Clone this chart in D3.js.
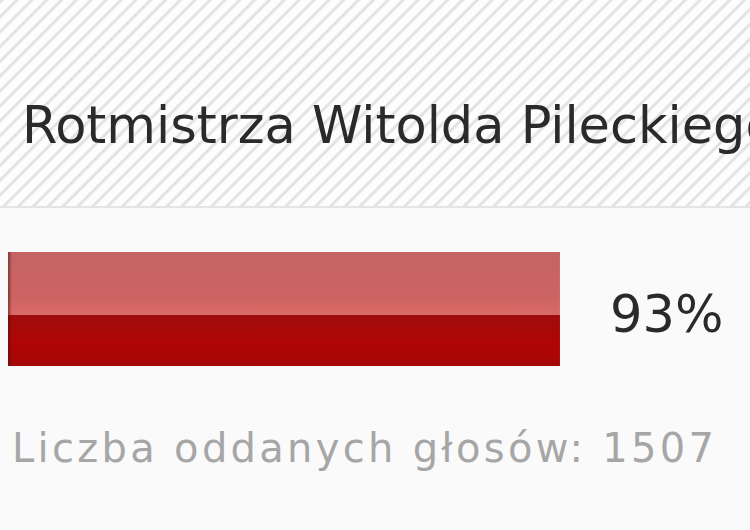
<!DOCTYPE html>
<html><head><meta charset="utf-8">
<script src="https://cdn.jsdelivr.net/npm/d3@7"></script>
<style>html,body{margin:0;padding:0;background:#fafafa;overflow:hidden}</style>
</head><body><svg id="c" width="750" height="530"></svg>
<script>
const categories = ["Rotmistrza Witolda Pileckiego"];
const percents = [93];
const totalVotesLabel = "Liczba oddanych głosów:";
const totalVotes = [1507];

const W = 750, H = 530;
const svg = d3.select("#c");
const defs = svg.append("defs");

const pat = defs.append("pattern").attr("id","hatch").attr("patternUnits","userSpaceOnUse")
  .attr("width",10.5).attr("height",10.5).attr("patternTransform","rotate(45)");
pat.append("rect").attr("width",10.5).attr("height",10.5).attr("fill","#fdfdfd");
pat.append("rect").attr("x",0).attr("width",3).attr("height",10.5).attr("fill","#e3e3e3");

const gTop = defs.append("linearGradient").attr("id","gTop").attr("x1",0).attr("y1",0).attr("x2",0).attr("y2",1);
gTop.append("stop").attr("offset","0").attr("stop-color","#c46464");
gTop.append("stop").attr("offset","0.75").attr("stop-color","#cc6462");
gTop.append("stop").attr("offset","1").attr("stop-color","#dc6a66");
const gBot = defs.append("linearGradient").attr("id","gBot").attr("x1",0).attr("y1",0).attr("x2",0).attr("y2",1);
gBot.append("stop").attr("offset","0").attr("stop-color","#a00c0c");
gBot.append("stop").attr("offset","0.6").attr("stop-color","#b00404");
gBot.append("stop").attr("offset","1").attr("stop-color","#a40808");
const gEdge = defs.append("linearGradient").attr("id","gEdge").attr("x1",0).attr("y1",0).attr("x2",1).attr("y2",0);
gEdge.append("stop").attr("offset","0").attr("stop-color","#4a1010").attr("stop-opacity",0.55);
gEdge.append("stop").attr("offset","1").attr("stop-color","#4a1010").attr("stop-opacity",0);

// header with hatch
svg.append("rect").attr("x",0).attr("y",0).attr("width",W).attr("height",206).attr("fill","url(#hatch)");
svg.append("rect").attr("x",0).attr("y",206).attr("width",W).attr("height",2).attr("fill","#e4e4e4");
svg.append("rect").attr("x",0).attr("y",208).attr("width",W).attr("height",H-208).attr("fill","#fafafa");

svg.append("text").attr("x",22).attr("y",143)
  .attr("font-family","DejaVu Sans, Verdana, sans-serif").attr("font-size",51)
  .attr("fill","#2a2a2a").text(categories[0]);

const x = d3.scaleLinear().domain([0,100]).range([8, 601.5]);
const y = d3.scaleBand().domain(categories).range([252, 366]).padding(0);

const bars = svg.selectAll("g.bar").data(categories).join("g").attr("class","bar");
bars.append("rect").attr("x",x(0)).attr("y",d=>y(d)).attr("width",(d,i)=>x(percents[i])-x(0))
  .attr("height",y.bandwidth()*0.55).attr("fill","url(#gTop)");
bars.append("rect").attr("x",x(0)).attr("y",d=>y(d)+y.bandwidth()*0.55).attr("width",(d,i)=>x(percents[i])-x(0))
  .attr("height",y.bandwidth()*0.45).attr("fill","url(#gBot)");
bars.append("rect").attr("x",x(0)).attr("y",d=>y(d)).attr("width",4)
  .attr("height",y.bandwidth()).attr("fill","url(#gEdge)");

bars.append("text").attr("x",610).attr("y",d=>y(d)+80)
  .attr("font-family","DejaVu Sans, Verdana, sans-serif").attr("font-size",51)
  .attr("fill","#2a2a2a").text((d,i)=>percents[i]+"%");

svg.append("text").attr("x",12).attr("y",462)
  .attr("font-family","DejaVu Sans, Verdana, sans-serif").attr("font-size",40)
  .attr("letter-spacing",3.3)
  .attr("fill","#a6a6a6").text(totalVotesLabel+" "+totalVotes[0]);
</script></body></html>
